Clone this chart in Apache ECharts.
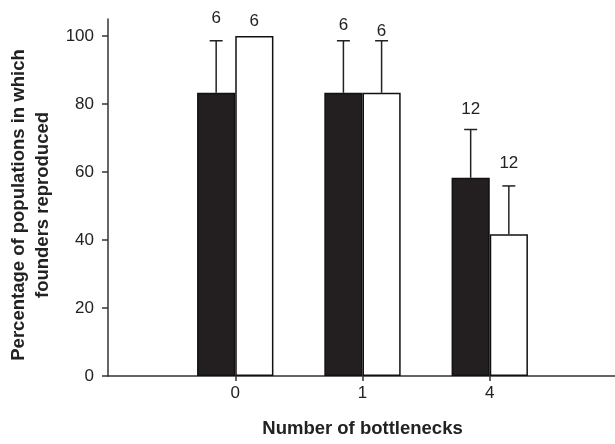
<!DOCTYPE html>
<html>
<head>
<meta charset="utf-8">
<script src="https://cdn.jsdelivr.net/npm/echarts@6/dist/echarts.min.js"></script>
<style>
html,body{margin:0;padding:0;background:#fff;}
#chart{width:615px;height:444px;}
</style>
</head>
<body>
<div id="chart"></div>
<script>
// Data
const categories = ['', '0', '1', '4', ''];
const blackValues = [null, 83.3, 83.3, 58.3, null];
const whiteValues = [null, 100, 83.3, 41.7, null];
const blackErrTop = [null, 98.6, 98.6, 72.5, null];
const whiteErrTop = [null, null, 98.6, 55.9, null];
const blackN = ['', '6', '6', '12', ''];
const whiteN = ['', '6', '6', '12', ''];
const yTicks = [0, 20, 40, 60, 80, 100];

// label lift above the top of bar / error bar (px)
const blackLift = [0, 22, 15.5, 20, 0];
const whiteLift = [0, 14.5, 9, 23, 0];

const FONT = '"Liberation Sans", Arial, Helvetica, sans-serif';
const chart = echarts.init(document.getElementById('chart'));

function makeCustom(values, errTop, labels, lifts, side) {
  const data = [];
  for (let i = 0; i < categories.length; i++) {
    if (values[i] == null) continue;
    data.push([i, values[i], errTop[i] == null ? -1 : errTop[i], labels[i], lifts[i]]);
  }
  return {
    type: 'custom',
    silent: true,
    z: 5,
    data: data,
    renderItem: function (params, api) {
      const i = api.value(0);
      const v = api.value(1);
      const e = api.value(2);
      const band = api.size([1, 0])[0];
      const base = api.coord([i, v]);
      const x = base[0] + side * band * 0.15;
      const children = [];
      let topY = base[1];
      if (e >= 0) {
        const t = api.coord([i, e]);
        topY = t[1];
        children.push({
          type: 'line',
          shape: { x1: x, y1: base[1], x2: x, y2: t[1] },
          style: { stroke: '#222', lineWidth: 1.5 }
        });
        children.push({
          type: 'line',
          shape: { x1: x - 6.5, y1: t[1], x2: x + 6.5, y2: t[1] },
          style: { stroke: '#222', lineWidth: 1.5 }
        });
      }
      const idx = params.dataIndex;
      children.push({
        type: 'text',
        style: {
          x: x,
          y: topY - data[idx][4],
          text: data[idx][3],
          textAlign: 'center',
          textVerticalAlign: 'middle',
          fill: '#222',
          font: '17px ' + FONT
        }
      });
      return { type: 'group', children: children };
    }
  };
}

chart.setOption({
  animation: false,
  backgroundColor: '#fff',
  grid: { left: 108, right: -2, top: 19, bottom: 68, containLabel: false, outerBoundsMode: 'none' },
  xAxis: {
    type: 'category',
    data: categories,
    boundaryGap: false,
    name: 'Number of bottlenecks',
    nameLocation: 'middle',
    nameGap: 43,
    nameTextStyle: { fontFamily: FONT, fontSize: 18.5, fontWeight: 'bold', color: '#222' },
    axisLine: { lineStyle: { color: '#333', width: 1.5 } },
    axisTick: {
      show: true,
      length: 5,
      interval: function (index, value) { return value !== ''; },
      lineStyle: { color: '#333', width: 1.5 }
    },
    axisLabel: { fontFamily: FONT, fontSize: 17, color: '#222', margin: 9, interval: 0 },
    splitLine: { show: false }
  },
  yAxis: {
    type: 'value',
    min: 0,
    max: 105,
    interval: 20,
    name: 'Percentage of populations in which\nfounders reproduced',
    nameLocation: 'middle',
    nameGap: 53,
    nameRotate: 90,
    nameTextStyle: { fontFamily: FONT, fontSize: 18.5, fontWeight: 'bold', color: '#222', lineHeight: 24, padding: [0, 15, 0, 0] },
    axisLine: { show: true, lineStyle: { color: '#333', width: 1.5 } },
    axisTick: { show: true, length: 6, customValues: yTicks, lineStyle: { color: '#333', width: 1.5 } },
    axisLabel: { fontFamily: FONT, fontSize: 17, color: '#222', margin: 14, customValues: yTicks },
    splitLine: { show: false }
  },
  series: [
    {
      type: 'bar',
      data: blackValues,
      barWidth: '30%',
      barGap: '0%',
      itemStyle: { color: '#231f20', borderColor: '#111', borderWidth: 1.5 },
      z: 2
    },
    {
      type: 'bar',
      data: whiteValues,
      barWidth: '30%',
      barGap: '0%',
      itemStyle: { color: '#ffffff', borderColor: '#111', borderWidth: 1.5 },
      z: 2
    },
    makeCustom(blackValues, blackErrTop, blackN, blackLift, -1),
    makeCustom(whiteValues, whiteErrTop, whiteN, whiteLift, 1)
  ]
});
</script>
</body>
</html>
